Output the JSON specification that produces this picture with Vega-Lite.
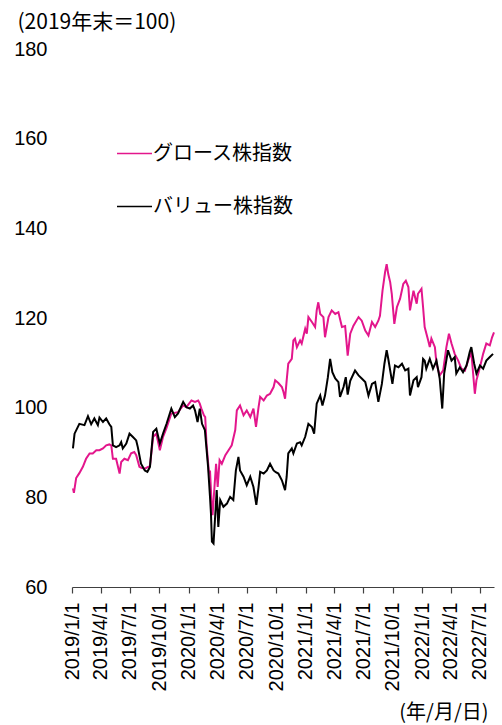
{
  "$schema": "https://vega.github.io/schema/vega-lite/v6.json",
  "autosize": "none",
  "width": 422,
  "height": 538,
  "padding": {"left": 72, "top": 49, "right": 8, "bottom": 138},
  "background": "white",
  "config": {"view": {"stroke": null}},
  "data": {"values": [
    {"s":"グロース株指数","d":"2019/01/04","v":82.0},{"s":"グロース株指数","d":"2019/01/07","v":81.0},{"s":"グロース株指数","d":"2019/01/14","v":84.3},{"s":"グロース株指数","d":"2019/01/24","v":85.4},{"s":"グロース株指数","d":"2019/02/04","v":86.8},{"s":"グロース株指数","d":"2019/02/14","v":88.6},{"s":"グロース株指数","d":"2019/02/25","v":89.8},{"s":"グロース株指数","d":"2019/03/07","v":89.8},{"s":"グロース株指数","d":"2019/03/18","v":90.5},{"s":"グロース株指数","d":"2019/03/28","v":90.5},{"s":"グロース株指数","d":"2019/04/08","v":90.9},{"s":"グロース株指数","d":"2019/04/18","v":91.6},{"s":"グロース株指数","d":"2019/04/28","v":91.8},{"s":"グロース株指数","d":"2019/05/04","v":91.6},{"s":"グロース株指数","d":"2019/05/09","v":88.6},{"s":"グロース株指数","d":"2019/05/19","v":88.6},{"s":"グロース株指数","d":"2019/05/30","v":85.3},{"s":"グロース株指数","d":"2019/06/04","v":87.9},{"s":"グロース株指数","d":"2019/06/14","v":88.6},{"s":"グロース株指数","d":"2019/06/25","v":88.3},{"s":"グロース株指数","d":"2019/07/05","v":89.8},{"s":"グロース株指数","d":"2019/07/15","v":90.1},{"s":"グロース株指数","d":"2019/07/21","v":89.4},{"s":"グロース株指数","d":"2019/07/31","v":86.8},{"s":"グロース株指数","d":"2019/08/06","v":86.6},{"s":"グロース株指数","d":"2019/08/17","v":86.4},{"s":"グロース株指数","d":"2019/09/02","v":87.0},{"s":"グロース株指数","d":"2019/09/12","v":93.5},{"s":"グロース株指数","d":"2019/09/22","v":94.2},{"s":"グロース株指数","d":"2019/10/03","v":90.5},{"s":"グロース株指数","d":"2019/10/13","v":93.5},{"s":"グロース株指数","d":"2019/10/24","v":95.5},{"s":"グロース株指数","d":"2019/11/08","v":98.7},{"s":"グロース株指数","d":"2019/11/29","v":99.0},{"s":"グロース株指数","d":"2019/12/15","v":100.5},{"s":"グロース株指数","d":"2019/12/25","v":100.1},{"s":"グロース株指数","d":"2020/01/10","v":101.6},{"s":"グロース株指数","d":"2020/01/21","v":101.3},{"s":"グロース株指数","d":"2020/01/31","v":101.6},{"s":"グロース株指数","d":"2020/02/05","v":100.9},{"s":"グロース株指数","d":"2020/02/10","v":99.8},{"s":"グロース株指数","d":"2020/02/18","v":98.3},{"s":"グロース株指数","d":"2020/02/22","v":97.9},{"s":"グロース株指数","d":"2020/02/26","v":92.0},{"s":"グロース株指数","d":"2020/03/05","v":85.3},{"s":"グロース株指数","d":"2020/03/08","v":86.0},{"s":"グロース株指数","d":"2020/03/13","v":78.6},{"s":"グロース株指数","d":"2020/03/16","v":76.0},{"s":"グロース株指数","d":"2020/03/22","v":82.3},{"s":"グロース株指数","d":"2020/03/27","v":87.5},{"s":"グロース株指数","d":"2020/04/01","v":82.3},{"s":"グロース株指数","d":"2020/04/07","v":88.3},{"s":"グロース株指数","d":"2020/04/14","v":87.5},{"s":"グロース株指数","d":"2020/04/25","v":89.4},{"s":"グロース株指数","d":"2020/05/05","v":90.5},{"s":"グロース株指数","d":"2020/05/15","v":91.6},{"s":"グロース株指数","d":"2020/05/26","v":95.0},{"s":"グロース株指数","d":"2020/05/31","v":99.4},{"s":"グロース株指数","d":"2020/06/10","v":100.5},{"s":"グロース株指数","d":"2020/06/21","v":98.3},{"s":"グロース株指数","d":"2020/07/01","v":99.4},{"s":"グロース株指数","d":"2020/07/12","v":97.9},{"s":"グロース株指数","d":"2020/07/22","v":99.8},{"s":"グロース株指数","d":"2020/07/30","v":95.7},{"s":"グロース株指数","d":"2020/08/07","v":100.1},{"s":"グロース株指数","d":"2020/08/12","v":102.4},{"s":"グロース株指数","d":"2020/08/23","v":101.6},{"s":"グロース株指数","d":"2020/09/02","v":102.7},{"s":"グロース株指数","d":"2020/09/12","v":103.1},{"s":"グロース株指数","d":"2020/09/23","v":104.6},{"s":"グロース株指数","d":"2020/09/28","v":106.1},{"s":"グロース株指数","d":"2020/10/08","v":105.5},{"s":"グロース株指数","d":"2020/10/19","v":104.6},{"s":"グロース株指数","d":"2020/10/24","v":103.5},{"s":"グロース株指数","d":"2020/10/29","v":102.0},{"s":"グロース株指数","d":"2020/11/03","v":106.1},{"s":"グロース株指数","d":"2020/11/08","v":109.8},{"s":"グロース株指数","d":"2020/11/19","v":110.9},{"s":"グロース株指数","d":"2020/11/24","v":115.0},{"s":"グロース株指数","d":"2020/11/29","v":115.4},{"s":"グロース株指数","d":"2020/12/05","v":113.5},{"s":"グロース株指数","d":"2020/12/15","v":115.0},{"s":"グロース株指数","d":"2020/12/20","v":114.3},{"s":"グロース株指数","d":"2020/12/31","v":117.6},{"s":"グロース株指数","d":"2021/01/05","v":116.5},{"s":"グロース株指数","d":"2021/01/10","v":120.2},{"s":"グロース株指数","d":"2021/01/21","v":119.1},{"s":"グロース株指数","d":"2021/01/31","v":118.0},{"s":"グロース株指数","d":"2021/02/05","v":121.7},{"s":"グロース株指数","d":"2021/02/10","v":123.5},{"s":"グロース株指数","d":"2021/02/16","v":120.9},{"s":"グロース株指数","d":"2021/02/26","v":120.2},{"s":"グロース株指数","d":"2021/03/03","v":115.7},{"s":"グロース株指数","d":"2021/03/14","v":120.2},{"s":"グロース株指数","d":"2021/03/24","v":121.7},{"s":"グロース株指数","d":"2021/04/04","v":120.9},{"s":"グロース株指数","d":"2021/04/14","v":121.3},{"s":"グロース株指数","d":"2021/04/25","v":118.0},{"s":"グロース株指数","d":"2021/05/05","v":118.2},{"s":"グロース株指数","d":"2021/05/13","v":111.6},{"s":"グロース株指数","d":"2021/05/21","v":116.5},{"s":"グロース株指数","d":"2021/05/31","v":118.3},{"s":"グロース株指数","d":"2021/06/16","v":120.2},{"s":"グロース株指数","d":"2021/06/26","v":119.4},{"s":"グロース株指数","d":"2021/07/07","v":117.2},{"s":"グロース株指数","d":"2021/07/17","v":116.1},{"s":"グロース株指数","d":"2021/07/28","v":119.1},{"s":"グロース株指数","d":"2021/08/07","v":118.0},{"s":"グロース株指数","d":"2021/08/17","v":119.4},{"s":"グロース株指数","d":"2021/08/22","v":120.5},{"s":"グロース株指数","d":"2021/08/30","v":126.1},{"s":"グロース株指数","d":"2021/09/07","v":130.2},{"s":"グロース株指数","d":"2021/09/12","v":132.0},{"s":"グロース株指数","d":"2021/09/17","v":129.8},{"s":"グロース株指数","d":"2021/09/23","v":128.0},{"s":"グロース株指数","d":"2021/09/28","v":125.4},{"s":"グロース株指数","d":"2021/10/06","v":118.7},{"s":"グロース株指数","d":"2021/10/14","v":122.4},{"s":"グロース株指数","d":"2021/10/24","v":124.3},{"s":"グロース株指数","d":"2021/11/03","v":127.6},{"s":"グロース株指数","d":"2021/11/11","v":128.3},{"s":"グロース株指数","d":"2021/11/19","v":126.9},{"s":"グロース株指数","d":"2021/11/24","v":121.7},{"s":"グロース株指数","d":"2021/12/05","v":126.1},{"s":"グロース株指数","d":"2021/12/15","v":123.2},{"s":"グロース株指数","d":"2021/12/19","v":125.4},{"s":"グロース株指数","d":"2021/12/30","v":126.5},{"s":"グロース株指数","d":"2022/01/04","v":122.4},{"s":"グロース株指数","d":"2022/01/09","v":118.0},{"s":"グロース株指数","d":"2022/01/20","v":115.0},{"s":"グロース株指数","d":"2022/01/25","v":113.5},{"s":"グロース株指数","d":"2022/01/30","v":115.4},{"s":"グロース株指数","d":"2022/02/10","v":113.5},{"s":"グロース株指数","d":"2022/02/15","v":109.8},{"s":"グロース株指数","d":"2022/02/25","v":107.2},{"s":"グロース株指数","d":"2022/03/08","v":108.3},{"s":"グロース株指数","d":"2022/03/18","v":113.5},{"s":"グロース株指数","d":"2022/03/26","v":116.5},{"s":"グロース株指数","d":"2022/04/03","v":114.3},{"s":"グロース株指数","d":"2022/04/13","v":112.0},{"s":"グロース株指数","d":"2022/04/24","v":110.5},{"s":"グロース株指数","d":"2022/05/04","v":108.7},{"s":"グロース株指数","d":"2022/05/15","v":108.3},{"s":"グロース株指数","d":"2022/05/25","v":110.5},{"s":"グロース株指数","d":"2022/06/04","v":112.4},{"s":"グロース株指数","d":"2022/06/15","v":103.1},{"s":"グロース株指数","d":"2022/06/20","v":106.1},{"s":"グロース株指数","d":"2022/07/01","v":109.0},{"s":"グロース株指数","d":"2022/07/11","v":112.0},{"s":"グロース株指数","d":"2022/07/21","v":114.3},{"s":"グロース株指数","d":"2022/08/01","v":113.9},{"s":"グロース株指数","d":"2022/08/08","v":115.7},{"s":"グロース株指数","d":"2022/08/14","v":116.8},
    {"s":"バリュー株指数","d":"2019/01/04","v":90.9},{"s":"バリュー株指数","d":"2019/01/09","v":94.2},{"s":"バリュー株指数","d":"2019/01/24","v":96.4},{"s":"バリュー株指数","d":"2019/02/09","v":96.1},{"s":"バリュー株指数","d":"2019/02/20","v":98.1},{"s":"バリュー株指数","d":"2019/03/02","v":96.3},{"s":"バリュー株指数","d":"2019/03/12","v":97.6},{"s":"バリュー株指数","d":"2019/03/23","v":96.1},{"s":"バリュー株指数","d":"2019/03/28","v":97.8},{"s":"バリュー株指数","d":"2019/04/08","v":96.8},{"s":"バリュー株指数","d":"2019/04/18","v":97.6},{"s":"バリュー株指数","d":"2019/04/28","v":96.3},{"s":"バリュー株指数","d":"2019/05/04","v":95.7},{"s":"バリュー株指数","d":"2019/05/09","v":91.6},{"s":"バリュー株指数","d":"2019/05/19","v":91.2},{"s":"バリュー株指数","d":"2019/05/30","v":91.6},{"s":"バリュー株指数","d":"2019/06/04","v":92.3},{"s":"バリュー株指数","d":"2019/06/09","v":90.9},{"s":"バリュー株指数","d":"2019/06/20","v":92.0},{"s":"バリュー株指数","d":"2019/06/30","v":94.2},{"s":"バリュー株指数","d":"2019/07/10","v":93.5},{"s":"バリュー株指数","d":"2019/07/21","v":92.7},{"s":"バリュー株指数","d":"2019/07/26","v":91.2},{"s":"バリュー株指数","d":"2019/08/05","v":87.5},{"s":"バリュー株指数","d":"2019/08/17","v":86.0},{"s":"バリュー株指数","d":"2019/08/25","v":85.7},{"s":"バリュー株指数","d":"2019/09/02","v":86.8},{"s":"バリュー株指数","d":"2019/09/12","v":94.6},{"s":"バリュー株指数","d":"2019/09/22","v":95.3},{"s":"バリュー株指数","d":"2019/10/03","v":92.0},{"s":"バリュー株指数","d":"2019/10/13","v":94.2},{"s":"バリュー株指数","d":"2019/10/24","v":96.4},{"s":"バリュー株指数","d":"2019/11/08","v":99.8},{"s":"バリュー株指数","d":"2019/11/19","v":97.9},{"s":"バリュー株指数","d":"2019/11/29","v":98.7},{"s":"バリュー株指数","d":"2019/12/15","v":101.3},{"s":"バリュー株指数","d":"2019/12/25","v":100.1},{"s":"バリュー株指数","d":"2020/01/05","v":99.8},{"s":"バリュー株指数","d":"2020/01/15","v":100.5},{"s":"バリュー株指数","d":"2020/01/21","v":99.4},{"s":"バリュー株指数","d":"2020/01/29","v":96.8},{"s":"バリュー株指数","d":"2020/02/05","v":99.8},{"s":"バリュー株指数","d":"2020/02/12","v":96.4},{"s":"バリュー株指数","d":"2020/02/21","v":95.0},{"s":"バリュー株指数","d":"2020/03/02","v":86.8},{"s":"バリュー株指数","d":"2020/03/08","v":80.1},{"s":"バリュー株指数","d":"2020/03/11","v":76.4},{"s":"バリュー株指数","d":"2020/03/14","v":70.1},{"s":"バリュー株指数","d":"2020/03/19","v":69.7},{"s":"バリュー株指数","d":"2020/03/24","v":75.6},{"s":"バリュー株指数","d":"2020/03/29","v":81.6},{"s":"バリュー株指数","d":"2020/04/03","v":73.4},{"s":"バリュー株指数","d":"2020/04/09","v":79.4},{"s":"バリュー株指数","d":"2020/04/19","v":77.9},{"s":"バリュー株指数","d":"2020/04/30","v":78.6},{"s":"バリュー株指数","d":"2020/05/10","v":80.1},{"s":"バリュー株指数","d":"2020/05/20","v":79.4},{"s":"バリュー株指数","d":"2020/05/28","v":86.0},{"s":"バリュー株指数","d":"2020/06/05","v":89.0},{"s":"バリュー株指数","d":"2020/06/10","v":86.0},{"s":"バリュー株指数","d":"2020/06/21","v":84.6},{"s":"バリュー株指数","d":"2020/07/01","v":82.7},{"s":"バリュー株指数","d":"2020/07/12","v":84.6},{"s":"バリュー株指数","d":"2020/07/22","v":82.3},{"s":"バリュー株指数","d":"2020/07/31","v":78.3},{"s":"バリュー株指数","d":"2020/08/07","v":82.3},{"s":"バリュー株指数","d":"2020/08/12","v":85.7},{"s":"バリュー株指数","d":"2020/08/23","v":85.3},{"s":"バリュー株指数","d":"2020/09/02","v":86.0},{"s":"バリュー株指数","d":"2020/09/12","v":87.5},{"s":"バリュー株指数","d":"2020/09/23","v":86.0},{"s":"バリュー株指数","d":"2020/09/30","v":85.6},{"s":"バリュー株指数","d":"2020/10/08","v":85.3},{"s":"バリュー株指数","d":"2020/10/19","v":83.8},{"s":"バリュー株指数","d":"2020/10/29","v":81.6},{"s":"バリュー株指数","d":"2020/11/03","v":84.6},{"s":"バリュー株指数","d":"2020/11/08","v":89.8},{"s":"バリュー株指数","d":"2020/11/19","v":90.9},{"s":"バリュー株指数","d":"2020/11/24","v":89.8},{"s":"バリュー株指数","d":"2020/12/05","v":92.0},{"s":"バリュー株指数","d":"2020/12/15","v":92.3},{"s":"バリュー株指数","d":"2020/12/20","v":91.6},{"s":"バリュー株指数","d":"2020/12/31","v":93.5},{"s":"バリュー株指数","d":"2021/01/10","v":96.4},{"s":"バリュー株指数","d":"2021/01/21","v":95.7},{"s":"バリュー株指数","d":"2021/01/28","v":94.2},{"s":"バリュー株指数","d":"2021/02/05","v":100.9},{"s":"バリュー株指数","d":"2021/02/16","v":102.7},{"s":"バリュー株指数","d":"2021/02/23","v":100.5},{"s":"バリュー株指数","d":"2021/03/03","v":102.7},{"s":"バリュー株指数","d":"2021/03/12","v":106.8},{"s":"バリュー株指数","d":"2021/03/19","v":110.9},{"s":"バリュー株指数","d":"2021/03/26","v":107.9},{"s":"バリュー株指数","d":"2021/04/04","v":106.5},{"s":"バリュー株指数","d":"2021/04/14","v":105.7},{"s":"バリュー株指数","d":"2021/04/19","v":102.4},{"s":"バリュー株指数","d":"2021/04/30","v":104.6},{"s":"バリュー株指数","d":"2021/05/07","v":106.8},{"s":"バリュー株指数","d":"2021/05/13","v":102.9},{"s":"バリュー株指数","d":"2021/05/21","v":106.0},{"s":"バリュー株指数","d":"2021/06/05","v":108.3},{"s":"バリュー株指数","d":"2021/06/16","v":107.2},{"s":"バリュー株指数","d":"2021/06/26","v":106.5},{"s":"バリュー株指数","d":"2021/07/07","v":105.7},{"s":"バリュー株指数","d":"2021/07/17","v":102.7},{"s":"バリュー株指数","d":"2021/07/28","v":105.3},{"s":"バリュー株指数","d":"2021/08/07","v":105.7},{"s":"バリュー株指数","d":"2021/08/17","v":101.3},{"s":"バリュー株指数","d":"2021/08/28","v":105.3},{"s":"バリュー株指数","d":"2021/09/05","v":109.8},{"s":"バリュー株指数","d":"2021/09/12","v":112.8},{"s":"バリュー株指数","d":"2021/09/17","v":110.9},{"s":"バリュー株指数","d":"2021/09/23","v":108.3},{"s":"バリュー株指数","d":"2021/09/30","v":105.3},{"s":"バリュー株指数","d":"2021/10/08","v":109.4},{"s":"バリュー株指数","d":"2021/10/19","v":109.0},{"s":"バリュー株指数","d":"2021/10/30","v":109.8},{"s":"バリュー株指数","d":"2021/11/09","v":108.3},{"s":"バリュー株指数","d":"2021/11/19","v":108.7},{"s":"バリュー株指数","d":"2021/11/24","v":102.7},{"s":"バリュー株指数","d":"2021/12/05","v":106.1},{"s":"バリュー株指数","d":"2021/12/15","v":106.8},{"s":"バリュー株指数","d":"2021/12/19","v":104.6},{"s":"バリュー株指数","d":"2021/12/30","v":106.8},{"s":"バリュー株指数","d":"2022/01/04","v":110.9},{"s":"バリュー株指数","d":"2022/01/09","v":110.5},{"s":"バリュー株指数","d":"2022/01/14","v":108.7},{"s":"バリュー株指数","d":"2022/01/25","v":110.9},{"s":"バリュー株指数","d":"2022/02/04","v":108.7},{"s":"バリュー株指数","d":"2022/02/15","v":110.5},{"s":"バリュー株指数","d":"2022/02/25","v":106.5},{"s":"バリュー株指数","d":"2022/03/05","v":99.8},{"s":"バリュー株指数","d":"2022/03/11","v":107.6},{"s":"バリュー株指数","d":"2022/03/23","v":112.8},{"s":"バリュー株指数","d":"2022/04/03","v":110.5},{"s":"バリュー株指数","d":"2022/04/13","v":111.3},{"s":"バリュー株指数","d":"2022/04/18","v":107.6},{"s":"バリュー株指数","d":"2022/04/29","v":109.0},{"s":"バリュー株指数","d":"2022/05/09","v":107.9},{"s":"バリュー株指数","d":"2022/05/20","v":109.4},{"s":"バリュー株指数","d":"2022/05/30","v":112.4},{"s":"バリュー株指数","d":"2022/06/04","v":113.5},{"s":"バリュー株指数","d":"2022/06/13","v":109.8},{"s":"バリュー株指数","d":"2022/06/20","v":107.6},{"s":"バリュー株指数","d":"2022/07/01","v":109.4},{"s":"バリュー株指数","d":"2022/07/11","v":108.7},{"s":"バリュー株指数","d":"2022/07/21","v":110.5},{"s":"バリュー株指数","d":"2022/08/01","v":111.3},{"s":"バリュー株指数","d":"2022/08/11","v":112.0}
  ]},
  "mark": {"type": "line", "strokeWidth": 2},
  "encoding": {
    "x": {
      "field": "d", "type": "temporal",
      "scale": {"domain": [{"year": 2019, "month": 1, "date": 1}, {"year": 2022, "month": 8, "date": 14}]},
      "axis": {
        "values": [
          {"year": 2019, "month": 1, "date": 1}, {"year": 2019, "month": 4, "date": 1}, {"year": 2019, "month": 7, "date": 1}, {"year": 2019, "month": 10, "date": 1},
          {"year": 2020, "month": 1, "date": 1}, {"year": 2020, "month": 4, "date": 1}, {"year": 2020, "month": 7, "date": 1}, {"year": 2020, "month": 10, "date": 1},
          {"year": 2021, "month": 1, "date": 1}, {"year": 2021, "month": 4, "date": 1}, {"year": 2021, "month": 7, "date": 1}, {"year": 2021, "month": 10, "date": 1},
          {"year": 2022, "month": 1, "date": 1}, {"year": 2022, "month": 4, "date": 1}, {"year": 2022, "month": 7, "date": 1}
        ],
        "format": "%Y/%-m/%-d",
        "labelAngle": 270,
        "labelAlign": "right",
        "labelBaseline": "middle",
        "labelFont": "Liberation Sans",
        "labelFontSize": 20,
        "labelColor": "#000000",
        "labelPadding": 9,
        "labelOverlap": false,
        "labelFlush": false,
        "grid": false,
        "domainColor": "#404040",
        "domainWidth": 1.2,
        "tickColor": "#404040",
        "tickWidth": 1.2,
        "tickSize": 6,
        "title": "(年/月/日)",
        "titleFont": "Noto Sans CJK JP",
        "titleFontSize": 20,
        "titleFontWeight": "normal",
        "titleColor": "#000000",
        "titleAngle": 0,
        "titleAlign": "right",
        "titleBaseline": "middle",
        "titleX": 416,
        "titleY": 125
      }
    },
    "y": {
      "field": "v", "type": "quantitative",
      "scale": {"domain": [60, 180], "nice": false, "zero": false},
      "axis": {
        "values": [60, 80, 100, 120, 140, 160, 180],
        "domain": false,
        "ticks": false,
        "grid": false,
        "labelFont": "Liberation Sans",
        "labelFontSize": 20,
        "labelColor": "#000000",
        "labelPadding": 25,
        "labelFlush": false,
        "title": "(2019年末＝100)",
        "titleFont": "Noto Sans CJK JP",
        "titleFontSize": 21,
        "titleFontWeight": "normal",
        "titleColor": "#000000",
        "titleAngle": 0,
        "titleAlign": "left",
        "titleBaseline": "middle",
        "titleX": -55,
        "titleY": -27
      }
    },
    "color": {
      "field": "s", "type": "nominal",
      "scale": {"domain": ["グロース株指数", "バリュー株指数"], "range": ["#E3168C", "#000000"]},
      "legend": {
        "title": null,
        "orient": "none",
        "legendX": 44,
        "legendY": 86,
        "symbolType": "stroke",
        "symbolSize": 1225,
        "symbolStrokeWidth": 1.5,
        "labelFont": "Noto Sans CJK JP",
        "labelFontSize": 20,
        "labelColor": "#000000",
        "labelOffset": 0,
        "rowPadding": 24,
        "padding": 0
      }
    }
  }
}
